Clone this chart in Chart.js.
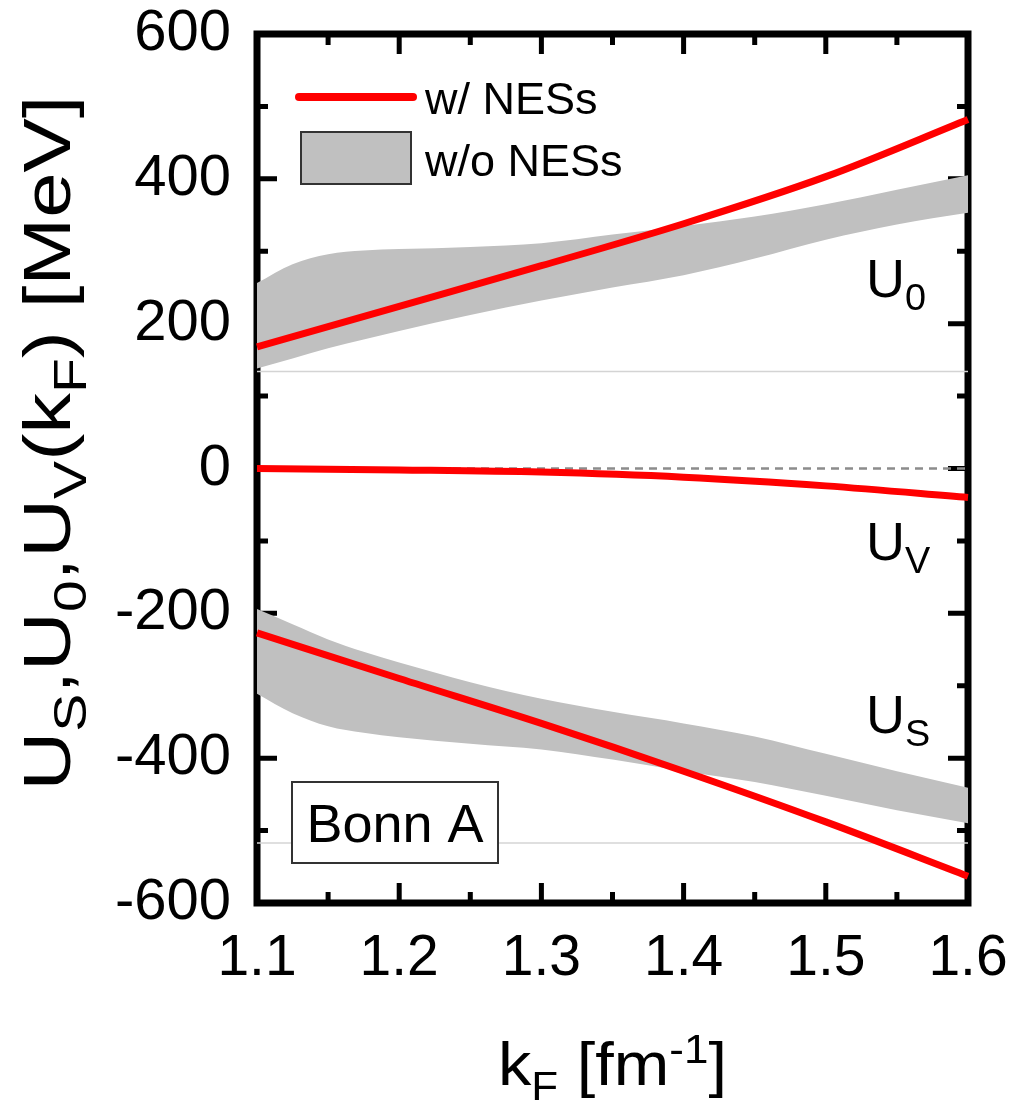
<!DOCTYPE html>
<html>
<head>
<meta charset="utf-8">
<script src="https://cdn.jsdelivr.net/npm/chart.js@4.4.0/dist/chart.umd.min.js"></script>
<style>
  html, body { margin: 0; padding: 0; background: #fff; }
</style>
</head>
<body>
<canvas id="chart" width="1014" height="1108"></canvas>
<script>
// red curves (w/ NESs)
const kLine = [1.1, 1.2, 1.3, 1.4, 1.5, 1.6];
const u0Line = [168, 224, 280, 338, 403, 482];
const uvLine = [0, -2, -5, -12, -24, -40];
const usLine = [-227, -290, -352, -418, -488, -563];

// grey bands (w/o NESs)
const kBand = [1.1, 1.125, 1.15, 1.175, 1.2, 1.25, 1.3, 1.35, 1.4, 1.45, 1.5, 1.55, 1.6];
const u0Upper = [256, 282, 296, 301, 303, 306, 311, 323, 335, 348, 365, 385, 405];
const u0Lower = [138, 152, 166, 178, 190, 212, 232, 250, 267, 290, 316, 337, 353];
const usUpper = [-194, -215, -236, -253, -268, -295, -318, -336, -352, -370, -394, -418, -441];
const usLower = [-311, -338, -356, -365, -371, -380, -388, -402, -418, -433, -452, -472, -490];

// reference lines
const kEnds = [1.1, 1.6];
const zeroLine = [0, 0];
const faintTop = [134, 134];
const faintBottom = [-517, -517];

const xTickValues = [1.1, 1.2, 1.3, 1.4, 1.5, 1.6];
const yTickValues = [-600, -400, -200, 0, 200, 400, 600];

const RED = '#ff0000';
const GREY = '#c0c0c0';
const FONT = '"Liberation Sans", Arial, sans-serif';

const pts = (xs, ys) => xs.map((x, i) => ({ x: x, y: ys[i] }));

function redLine(label, ys) {
  return {
    label: label,
    data: pts(kLine, ys),
    borderColor: RED,
    borderWidth: 7,
    pointRadius: 0,
    cubicInterpolationMode: 'monotone',
    fill: false,
    clip: 6,
    order: 0
  };
}

function bandEdge(label, ys, fillTarget) {
  return {
    label: label,
    data: pts(kBand, ys),
    borderWidth: 0,
    borderColor: 'rgba(0,0,0,0)',
    backgroundColor: GREY,
    pointRadius: 0,
    cubicInterpolationMode: 'monotone',
    fill: fillTarget,
    order: 3
  };
}

function plainLine(label, ys, color, width, dash, order) {
  return {
    label: label,
    data: pts(kEnds, ys),
    borderColor: color,
    borderWidth: width,
    borderDash: dash,
    pointRadius: 0,
    fill: false,
    order: order
  };
}

const datasets = [
  redLine('U0 w/ NESs', u0Line),        // 0
  redLine('UV w/ NESs', uvLine),        // 1
  redLine('US w/ NESs', usLine),        // 2
  bandEdge('U0 lower', u0Lower, false), // 3
  bandEdge('U0 upper', u0Upper, 3),     // 4
  bandEdge('US lower', usLower, false), // 5
  bandEdge('US upper', usUpper, 5),     // 6
  plainLine('zero', zeroLine, '#8c8c8c', 2.5, [8, 6], 1),
  plainLine('faint1', faintTop, '#d4d4d4', 1.5, [], 4),
  plainLine('faint2', faintBottom, '#d4d4d4', 1.5, [], 4)
];

// text with sub/superscripts: parts = [[text, ''|'sub'|'sup'], ...]
function richWidth(ctx, parts, size, small) {
  let w = 0;
  parts.forEach(([t, k]) => {
    ctx.font = (k ? size * small : size) + 'px ' + FONT;
    w += ctx.measureText(t).width;
  });
  return w;
}

function richText(ctx, parts, x, y, size, small, center) {
  ctx.textAlign = 'left';
  ctx.textBaseline = 'alphabetic';
  let cx = center ? x - richWidth(ctx, parts, size, small) / 2 : x;
  parts.forEach(([t, k]) => {
    ctx.font = (k ? size * small : size) + 'px ' + FONT;
    const dy = k === 'sub' ? size * 0.24 : (k === 'sup' ? -size * 0.36 : 0);
    ctx.fillText(t, cx, y + dy);
    cx += ctx.measureText(t).width;
  });
}

function noOverflow(scale) {
  scale.paddingTop = 0;
  scale.paddingBottom = 0;
  scale.paddingLeft = 0;
  scale.paddingRight = 0;
}

const framePlugin = {
  id: 'frame',
  beforeDatasetsDraw(chart) {
    const ctx = chart.ctx;
    const a = chart.chartArea;
    const sx = chart.scales.x, sy = chart.scales.y;
    ctx.save();
    ctx.strokeStyle = '#000';
    ctx.lineWidth = 5;
    ctx.lineCap = 'butt';
    for (let i = 0; i <= 10; i++) {
      const px = sx.getPixelForValue(1.1 + i * 0.05);
      const len = i % 2 === 0 ? 20 : 11;
      ctx.beginPath();
      ctx.moveTo(px, a.bottom); ctx.lineTo(px, a.bottom - len);
      ctx.moveTo(px, a.top); ctx.lineTo(px, a.top + len);
      ctx.stroke();
    }
    for (let i = 0; i <= 12; i++) {
      const py = sy.getPixelForValue(-600 + i * 100);
      const len = i % 2 === 0 ? 20 : 11;
      ctx.beginPath();
      ctx.moveTo(a.left, py); ctx.lineTo(a.left + len, py);
      ctx.moveTo(a.right, py); ctx.lineTo(a.right - len, py);
      ctx.stroke();
    }
    ctx.lineWidth = 7;
    ctx.strokeRect(a.left, a.top, a.right - a.left, a.bottom - a.top);
    ctx.restore();
  },
  afterDraw(chart) {
    const ctx = chart.ctx;
    const a = chart.chartArea;
    ctx.save();
    ctx.fillStyle = '#000';

    // curve labels
    richText(ctx, [['U', ''], ['0', 'sub']], 866, 297, 54, 0.7, false);
    richText(ctx, [['U', ''], ['V', 'sub']], 866, 560, 54, 0.7, false);
    richText(ctx, [['U', ''], ['S', 'sub']], 866, 733, 54, 0.7, false);

    // legend
    ctx.strokeStyle = RED;
    ctx.lineWidth = 8;
    ctx.lineCap = 'round';
    ctx.beginPath();
    ctx.moveTo(299, 97); ctx.lineTo(413, 97);
    ctx.stroke();
    ctx.fillStyle = GREY;
    ctx.fillRect(301, 132, 110, 52);
    ctx.strokeStyle = '#333';
    ctx.lineWidth = 2;
    ctx.strokeRect(301, 132, 110, 52);
    ctx.fillStyle = '#000';
    ctx.font = '45px ' + FONT;
    ctx.textAlign = 'left';
    ctx.textBaseline = 'alphabetic';
    ctx.fillText('w/ NESs', 425, 114);
    ctx.fillText('w/o NESs', 425, 176);

    // model box
    ctx.fillStyle = '#fff';
    ctx.fillRect(292, 782, 206, 81);
    ctx.strokeStyle = '#333';
    ctx.lineWidth = 2;
    ctx.strokeRect(292, 782, 206, 81);
    ctx.fillStyle = '#000';
    ctx.font = '54px ' + FONT;
    ctx.textAlign = 'center';
    ctx.fillText('Bonn A', 395, 842);

    // x title
    const xParts = [['k', ''], ['F', 'sub'], [' [fm', ''], ['-1', 'sup'], [']', '']];
    ctx.save();
    const xw = richWidth(ctx, xParts, 62, 0.66);
    ctx.translate((a.left + a.right) / 2, 1085);
    ctx.scale(229 / xw, 1);
    richText(ctx, xParts, 0, 0, 62, 0.66, true);
    ctx.restore();

    // y title
    const yParts = [['U', ''], ['S', 'sub'], [',U', ''], ['0', 'sub'], [',U', ''], ['V', 'sub'],
      ['(k', ''], ['F', 'sub'], [') [MeV]', '']];
    ctx.save();
    const yw = richWidth(ctx, yParts, 66, 0.7);
    ctx.translate(70, 443);
    ctx.rotate(-Math.PI / 2);
    ctx.scale(695 / yw, 1);
    richText(ctx, yParts, 0, 0, 66, 0.7, true);
    ctx.restore();

    ctx.restore();
  }
};

const config = {
  type: 'line',
  data: { datasets: datasets },
  options: {
    responsive: false,
    animation: false,
    layout: { padding: { top: 34, right: 46, left: 0, bottom: 0 } },
    plugins: {
      legend: { display: false },
      tooltip: { enabled: false }
    },
    scales: {
      x: {
        type: 'linear',
        min: 1.1,
        max: 1.6,
        afterFit(scale) { scale.height = 205; noOverflow(scale); },
        afterBuildTicks(scale) { scale.ticks = xTickValues.map(v => ({ value: v })); },
        grid: { display: false, drawTicks: false },
        border: { display: false },
        ticks: {
          color: '#000',
          padding: 22,
          maxRotation: 0,
          font: { family: FONT, size: 57 },
          callback: v => v.toFixed(1)
        }
      },
      y: {
        type: 'linear',
        min: -600,
        max: 600,
        afterFit(scale) { scale.width = 257; noOverflow(scale); },
        afterBuildTicks(scale) { scale.ticks = yTickValues.map(v => ({ value: v })); },
        grid: { display: false, drawTicks: false },
        border: { display: false },
        ticks: {
          color: '#000',
          padding: 26,
          font: { family: FONT, size: 58 },
          callback: v => String(v)
        }
      }
    }
  },
  plugins: [framePlugin]
};

const ctx = document.getElementById('chart').getContext('2d');
const myChart = new Chart(ctx, config);
</script>
</body>
</html>
